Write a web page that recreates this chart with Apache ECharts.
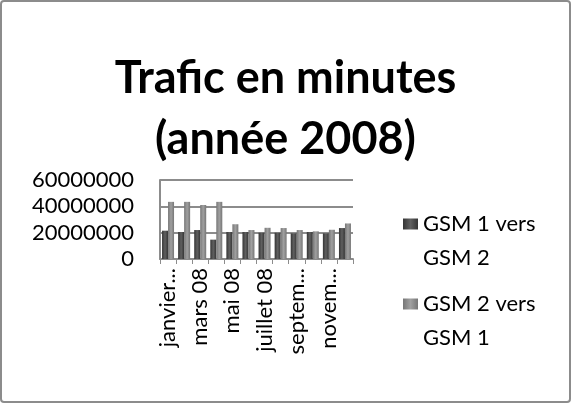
<!DOCTYPE html>
<html>
<head>
<meta charset="utf-8">
<script src="https://cdn.jsdelivr.net/npm/echarts@6/dist/echarts.min.js"></script>
<style>
html, body { margin: 0; padding: 0; background: #fff; }
#chart { width: 571px; height: 403px; box-sizing: border-box; border: 2px solid #8c8c8c; border-radius: 4px; }
</style>
</head>
<body>
<div id="chart"></div>
<script>
// mois (année 2008)
var months = ['janvier 08', 'février 08', 'mars 08', 'avril 08', 'mai 08', 'juin 08',
    'juillet 08', 'août 08', 'septembre 08', 'octobre 08', 'novembre 08', 'décembre 08']
// libellés tels qu'affichés (tronqués)
var monthLabels = ['janvier...', 'février...', 'mars 08', 'avril 08', 'mai 08', 'juin 08',
    'juillet 08', 'août 08', 'septem...', 'octobr...', 'novem...', 'décem...']
var gsm1vers2 = [21500000, 20500000, 22000000, 14700000, 20500000, 20500000,
    20000000, 20000000, 19500000, 20500000, 19500000, 23500000]
var gsm2vers1 = [43400000, 43400000, 41000000, 43400000, 26400000, 22000000,
    23700000, 23500000, 22000000, 21000000, 22200000, 27000000]
var yTicks = [0, 20000000, 40000000, 60000000]
var seriesNames = ['GSM 1 vers GSM 2', 'GSM 2 vers GSM 1']

var font = 'Lato, "Open Sans", sans-serif'

function grad (a, b) {
    return new echarts.graphic.LinearGradient(0, 0, 1, 0, [
        { offset: 0, color: a },
        { offset: 0.5, color: b },
        { offset: 1, color: a }
    ])
}

// une légende par série, l'icône alignée sur la première ligne
function legendFor (name, top) {
    return {
        data: [name],
        left: 396,
        top: top,
        itemWidth: 15,
        itemHeight: 11,
        icon: 'rect',
        formatter: function (n) {
            var parts = n.split('vers ')
            return '{s| }\n{t|' + parts[0] + 'vers}\n{t|' + parts[1] + '}'
        },
        textStyle: {
            fontFamily: font,
            fontSize: 22,
            color: '#000',
            rich: {
                s: { fontSize: 22, lineHeight: 34 },
                t: { fontFamily: font, fontSize: 22, lineHeight: 34, color: '#000' }
            }
        }
    }
}

var chart = echarts.init(document.getElementById('chart'))
chart.setOption({
    animation: false,
    title: {
        text: 'Trafic en minutes\n(année 2008)',
        left: 'center',
        top: 41,
        textStyle: {
            fontFamily: font,
            fontWeight: 'bold',
            fontSize: 45,
            lineHeight: 61,
            color: '#000'
        }
    },
    legend: [
        legendFor(seriesNames[0], 172),
        legendFor(seriesNames[1], 252)
    ],
    grid: {
        left: 158,
        right: 216,
        top: 178,
        bottom: 142
    },
    xAxis: {
        type: 'category',
        data: months,
        axisLine: { lineStyle: { color: '#8c8c8c', width: 2 } },
        axisTick: { show: true, interval: 0, length: 5, lineStyle: { color: '#8c8c8c' } },
        axisLabel: {
            interval: 1,
            rotate: 90,
            margin: 9,
            fontFamily: font,
            fontSize: 22,
            color: '#000',
            formatter: function (v, i) { return monthLabels[i] }
        }
    },
    yAxis: {
        type: 'value',
        min: yTicks[0],
        max: yTicks[yTicks.length - 1],
        interval: yTicks[1] - yTicks[0],
        axisLine: { show: true, lineStyle: { color: '#8c8c8c', width: 2 } },
        axisTick: { show: false },
        splitLine: { lineStyle: { color: '#8c8c8c', width: 2 } },
        axisLabel: {
            margin: 26,
            fontFamily: font,
            fontSize: 22,
            color: '#000',
            formatter: function (v) { return String(v) }
        }
    },
    series: [
        {
            name: seriesNames[0],
            type: 'bar',
            data: gsm1vers2,
            barWidth: 6,
            barGap: '0%',
            itemStyle: { color: grad('#353535', '#606060') }
        },
        {
            name: seriesNames[1],
            type: 'bar',
            data: gsm2vers1,
            barWidth: 6,
            itemStyle: { color: grad('#767676', '#a0a0a0') }
        }
    ]
})
</script>
</body>
</html>
